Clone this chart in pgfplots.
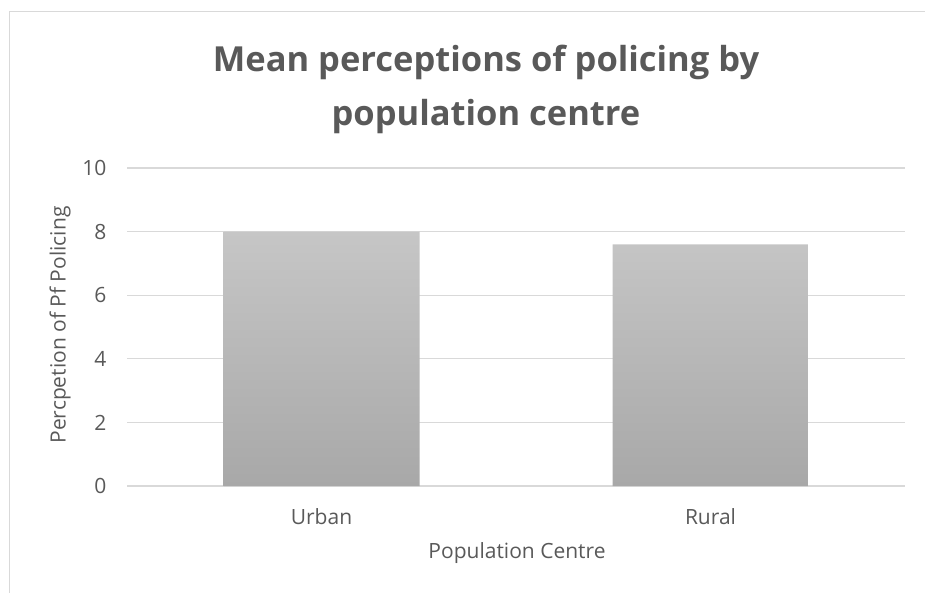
\documentclass[border=0pt]{standalone}
\usepackage{fontspec}
\setmainfont{Open Sans}
\usepackage{pgfplots}
\pgfplotsset{compat=1.18}
\definecolor{txt}{RGB}{89,89,89}
\definecolor{gridc}{RGB}{217,217,217}
\definecolor{bartop}{RGB}{198,198,198}
\definecolor{barbot}{RGB}{168,168,168}
\begin{document}
\begin{tikzpicture}[x=1pt,y=1pt]
\path[use as bounding box] (0,0) rectangle (925,592);
\draw[gridc, line width=1.5pt] (9.5,-5) -- (9.5,580.5) -- (930,580.5);
\begin{axis}[
  at={(127pt,106pt)}, anchor=south west,
  scale only axis, width=778pt, height=318pt,
  xmin=-0.5, xmax=1.5, ymin=0, ymax=10,
  ytick={0,2,4,6,8,10},
  xtick={0,1}, xticklabels={Urban,Rural},
  axis line style={draw=none},
  major tick length=0pt,
  ymajorgrids, grid style={gridc, line width=1.2pt},
  /pgf/number format/assume math mode=true,
  tick label style={font=\fontsize{21}{25}\selectfont, text=txt},
  yticklabel style={xshift=-17pt},
  xticklabel style={yshift=-19pt},
  clip=false,
]
\addplot[ybar, bar width=196pt, draw=none, top color=bartop, bottom color=barbot] coordinates {(0,8.0) (1,7.6)};
\end{axis}
\node[anchor=base, font=\fontsize{34.5}{40}\selectfont\bfseries, text=txt] at (486,520) {Mean perceptions of policing by};
\node[anchor=base, font=\fontsize{34.5}{40}\selectfont\bfseries, text=txt] at (486,466) {population centre};
\node[rotate=90, font=\fontsize{21}{25}\selectfont, text=txt] at (60,267) {Percpetion of Pf Policing};
\node[font=\fontsize{21}{25}\selectfont, text=txt] at (517,39) {Population Centre};
\end{tikzpicture}
\end{document}
